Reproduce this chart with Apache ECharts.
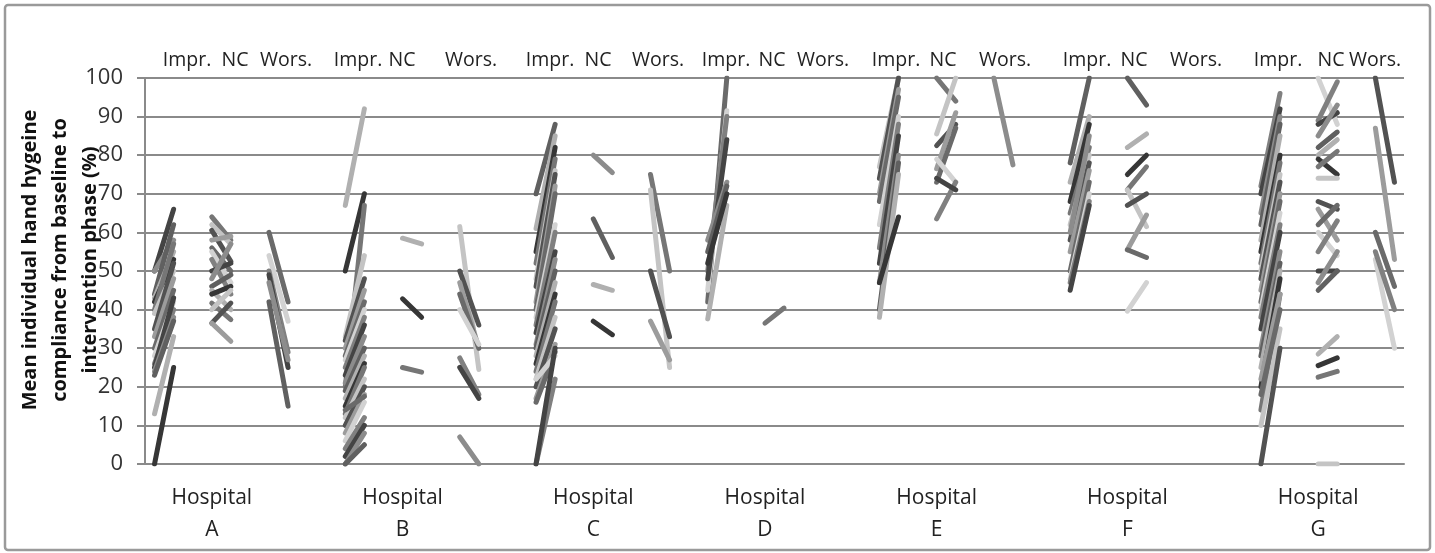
<!DOCTYPE html>
<html>
<head>
<meta charset="UTF-8">
<title>Hand hygiene compliance per hospital</title>
<script src="https://cdn.jsdelivr.net/npm/echarts@6/dist/echarts.min.js"></script>
<style>
  html, body { margin: 0; padding: 0; background: #fff; }
  #main { width: 1435px; height: 553px; }
</style>
</head>
<body>
<div id="main"></div>
<script>
// baseline -> intervention (%), one pair per person
var hospitals = ['A', 'B', 'C', 'D', 'E', 'F', 'G'];
var yTicks = [0, 10, 20, 30, 40, 50, 60, 70, 80, 90, 100];
var groupNames = ['Impr.', 'NC', 'Wors.'];

var A_impr = [[50,66],[50,58],[44,62],[43,55],[42,53],[40,57],[39,50],[35,52],[33,48],[30,45],[28,42],[26,40],[25,43],[24,38],[23,37],[13,33],[0,25]];
var A_nc   = [[64,58],[62,57],[60.5,52.5],[58,59],[56,50],[55,47],[53,44],[50,52],[48,57],[46,49],[45,40],[44,46],[41.7,37.4],[40,45],[36.5,41.7],[36.5,31.8]];
var A_wors = [[60,42],[54,37],[50,29],[49,25],[47,27],[42,15]];

var B_impr = [[67,92],[50,70],[20,67],[33,54],[32,48],[30,45],[28,42],[27,40],[25,38],[23,36],[21,33],[19,30],[17,28],[15,26],[13,25],[12,22],[10,20],[8,18],[14,17.5],[6,16],[4,12],[2,10],[0,8],[0,5]];
var B_nc   = [[58.5,57],[42.8,38],[25,23.8]];
var B_wors = [[61.5,24.5],[50,36],[47,30],[44,30],[40,31],[27.5,18],[25,17],[7,0]];

var C_impr = [[70,88],[61,85],[55,82],[52,79],[48,76],[46,75],[42,72],[40,70],[38,62],[36,60],[34,55],[31,53],[30,50],[28,47],[26,44],[24,42],[22,38],[20,35],[17,31],[16,29],[22,28],[0,22],[0,30]];
var C_nc   = [[80,75.5],[63.5,53.5],[46.5,45],[37,33.5]];
var C_wors = [[75,50],[71,25],[50,33],[37,27]];

var D_impr = [[42,100],[45,91.5],[50,90],[48,84],[58,73],[55,72],[37.6,67],[52,70]];
var D_nc   = [[36.5,40.4]];
var D_wors = [];

var E_impr = [[77,100],[74,100],[70,97],[68,95],[62,90],[56,88],[52,85],[47,80],[40,78],[38,75],[47,64]];
var E_nc   = [[100,94],[85.5,100],[82.5,88],[76.5,91],[73,87],[79,73],[63.5,73],[74,71]];
var E_wors = [[100,77.5]];

var F_impr = [[78,100],[73,90],[68,88],[65,82],[62,80],[58,78],[55,76],[50,73],[48,70],[47,68],[45,67],[60,85]];
var F_nc   = [[100,93],[82,85.5],[75,80],[71,77],[71,61.5],[67,70],[55.5,64.5],[55.5,53.5],[39.6,47]];
var F_wors = [];

var G_impr = [[72,96],[70,92],[65,90],[62,88],[58,85],[55,80],[52,78],[50,75],[48,73],[45,70],[42,68],[40,65],[38,62],[35,60],[30,55],[28,52],[25,50],[20,48],[14,44],[10,35],[0,30],[22,44],[18,40]];
var G_nc   = [[100,88],[89,99],[88,91],[85,93],[82,86],[80,84],[79,75],[77,81],[74,74],[68,66],[66,58],[62,67],[60,54],[55,63],[50,50],[47,55],[45,50],[28.5,33],[25.5,27.5],[22.5,24],[0,0]];
var G_wors = [[100,73],[87,53],[60,46],[53,30],[55,40]];

var byHospital = {
  A: [A_impr, A_nc, A_wors], B: [B_impr, B_nc, B_wors], C: [C_impr, C_nc, C_wors],
  D: [D_impr, D_nc, D_wors], E: [E_impr, E_nc, E_wors], F: [F_impr, F_nc, F_wors],
  G: [G_impr, G_nc, G_wors]
};

// layout: first slot of every hospital on the category axis, slot offset of each group
var groupStart = [0, 10, 20, 29, 38, 48, 58];
var groupOffset = [0, 3, 6];
var slotCount = 66;
var grays = ['#444444', '#8c8c8c', '#606060', '#b0b0b0', '#363636', '#767676', '#c4c4c4', '#525252', '#9c9c9c', '#6a6a6a', '#d2d2d2', '#808080'];
// x centres (px) of the Impr. / NC / Wors. captions above each hospital
var captionX = [[187,235,286],[358,402,471],[550,598,658],[726,772,823],[896,943,1005],[1087,1134,1196],[1278,1331,1375]];

var slots = [];
for (var i = 0; i < slotCount; i++) slots.push(String(i));
var hospAt = {};
hospitals.forEach(function (h, k) { hospAt[groupStart[k] + 3] = h; });

var series = [];
var n = 0;
hospitals.forEach(function (h, k) {
  byHospital[h].forEach(function (pairs, g) {
    var x0 = groupStart[k] + groupOffset[g];
    pairs.forEach(function (p) {
      series.push({
        type: 'line',
        data: [[x0, p[0]], [x0 + 1, p[1]]],
        symbol: 'none',
        silent: true,
        lineStyle: { color: grays[n % grays.length], width: 5, cap: 'round' }
      });
      n++;
    });
  });
});

var graphics = [{
  type: 'rect', shape: { x: 5, y: 5, width: 1425, height: 545, r: 3 },
  style: { fill: 'none', stroke: '#9a9a9a', lineWidth: 2.5 }, silent: true
}, {
  type: 'text', x: 60, y: 260, rotation: Math.PI / 2,
  style: {
    text: 'Mean individual hand hygeine\ncompliance from baseline to\nintervention phase (%)',
    font: 'bold 20px "Open Sans"', fill: '#111', align: 'center', verticalAlign: 'middle', lineHeight: 30
  }
}];
captionX.forEach(function (row) {
  row.forEach(function (cx, g) {
    graphics.push({
      type: 'text', x: cx, y: 60,
      style: { text: groupNames[g], font: '19.5px "Open Sans"', fill: '#222', align: 'center', verticalAlign: 'middle' }
    });
  });
});

var myChart = echarts.init(document.getElementById('main'));
myChart.setOption({
  animation: false,
  backgroundColor: '#fff',
  grid: { left: 145, right: 31, top: 78, bottom: 89 },
  xAxis: {
    type: 'category',
    data: slots,
    boundaryGap: true,
    axisLine: { show: true, lineStyle: { color: '#8a8a8a', width: 2 } },
    axisTick: { show: false },
    splitLine: { show: false },
    axisLabel: {
      interval: 0,
      margin: 18,
      fontFamily: 'Open Sans', fontSize: 21, color: '#222', lineHeight: 32,
      formatter: function (v, i) { return hospAt[i] ? 'Hospital\n' + hospAt[i] : ''; }
    }
  },
  yAxis: {
    type: 'value',
    min: yTicks[0], max: yTicks[yTicks.length - 1], interval: 10,
    axisLine: { show: true, lineStyle: { color: '#8a8a8a', width: 2 } },
    axisTick: { show: true, inside: false, length: 8, lineStyle: { color: '#8a8a8a', width: 2 } },
    splitLine: { show: true, lineStyle: { color: '#8a8a8a', width: 2 } },
    axisLabel: { margin: 22, fontFamily: 'Open Sans', fontSize: 22, color: '#333' }
  },
  graphic: graphics,
  series: series
});
</script>
</body>
</html>
